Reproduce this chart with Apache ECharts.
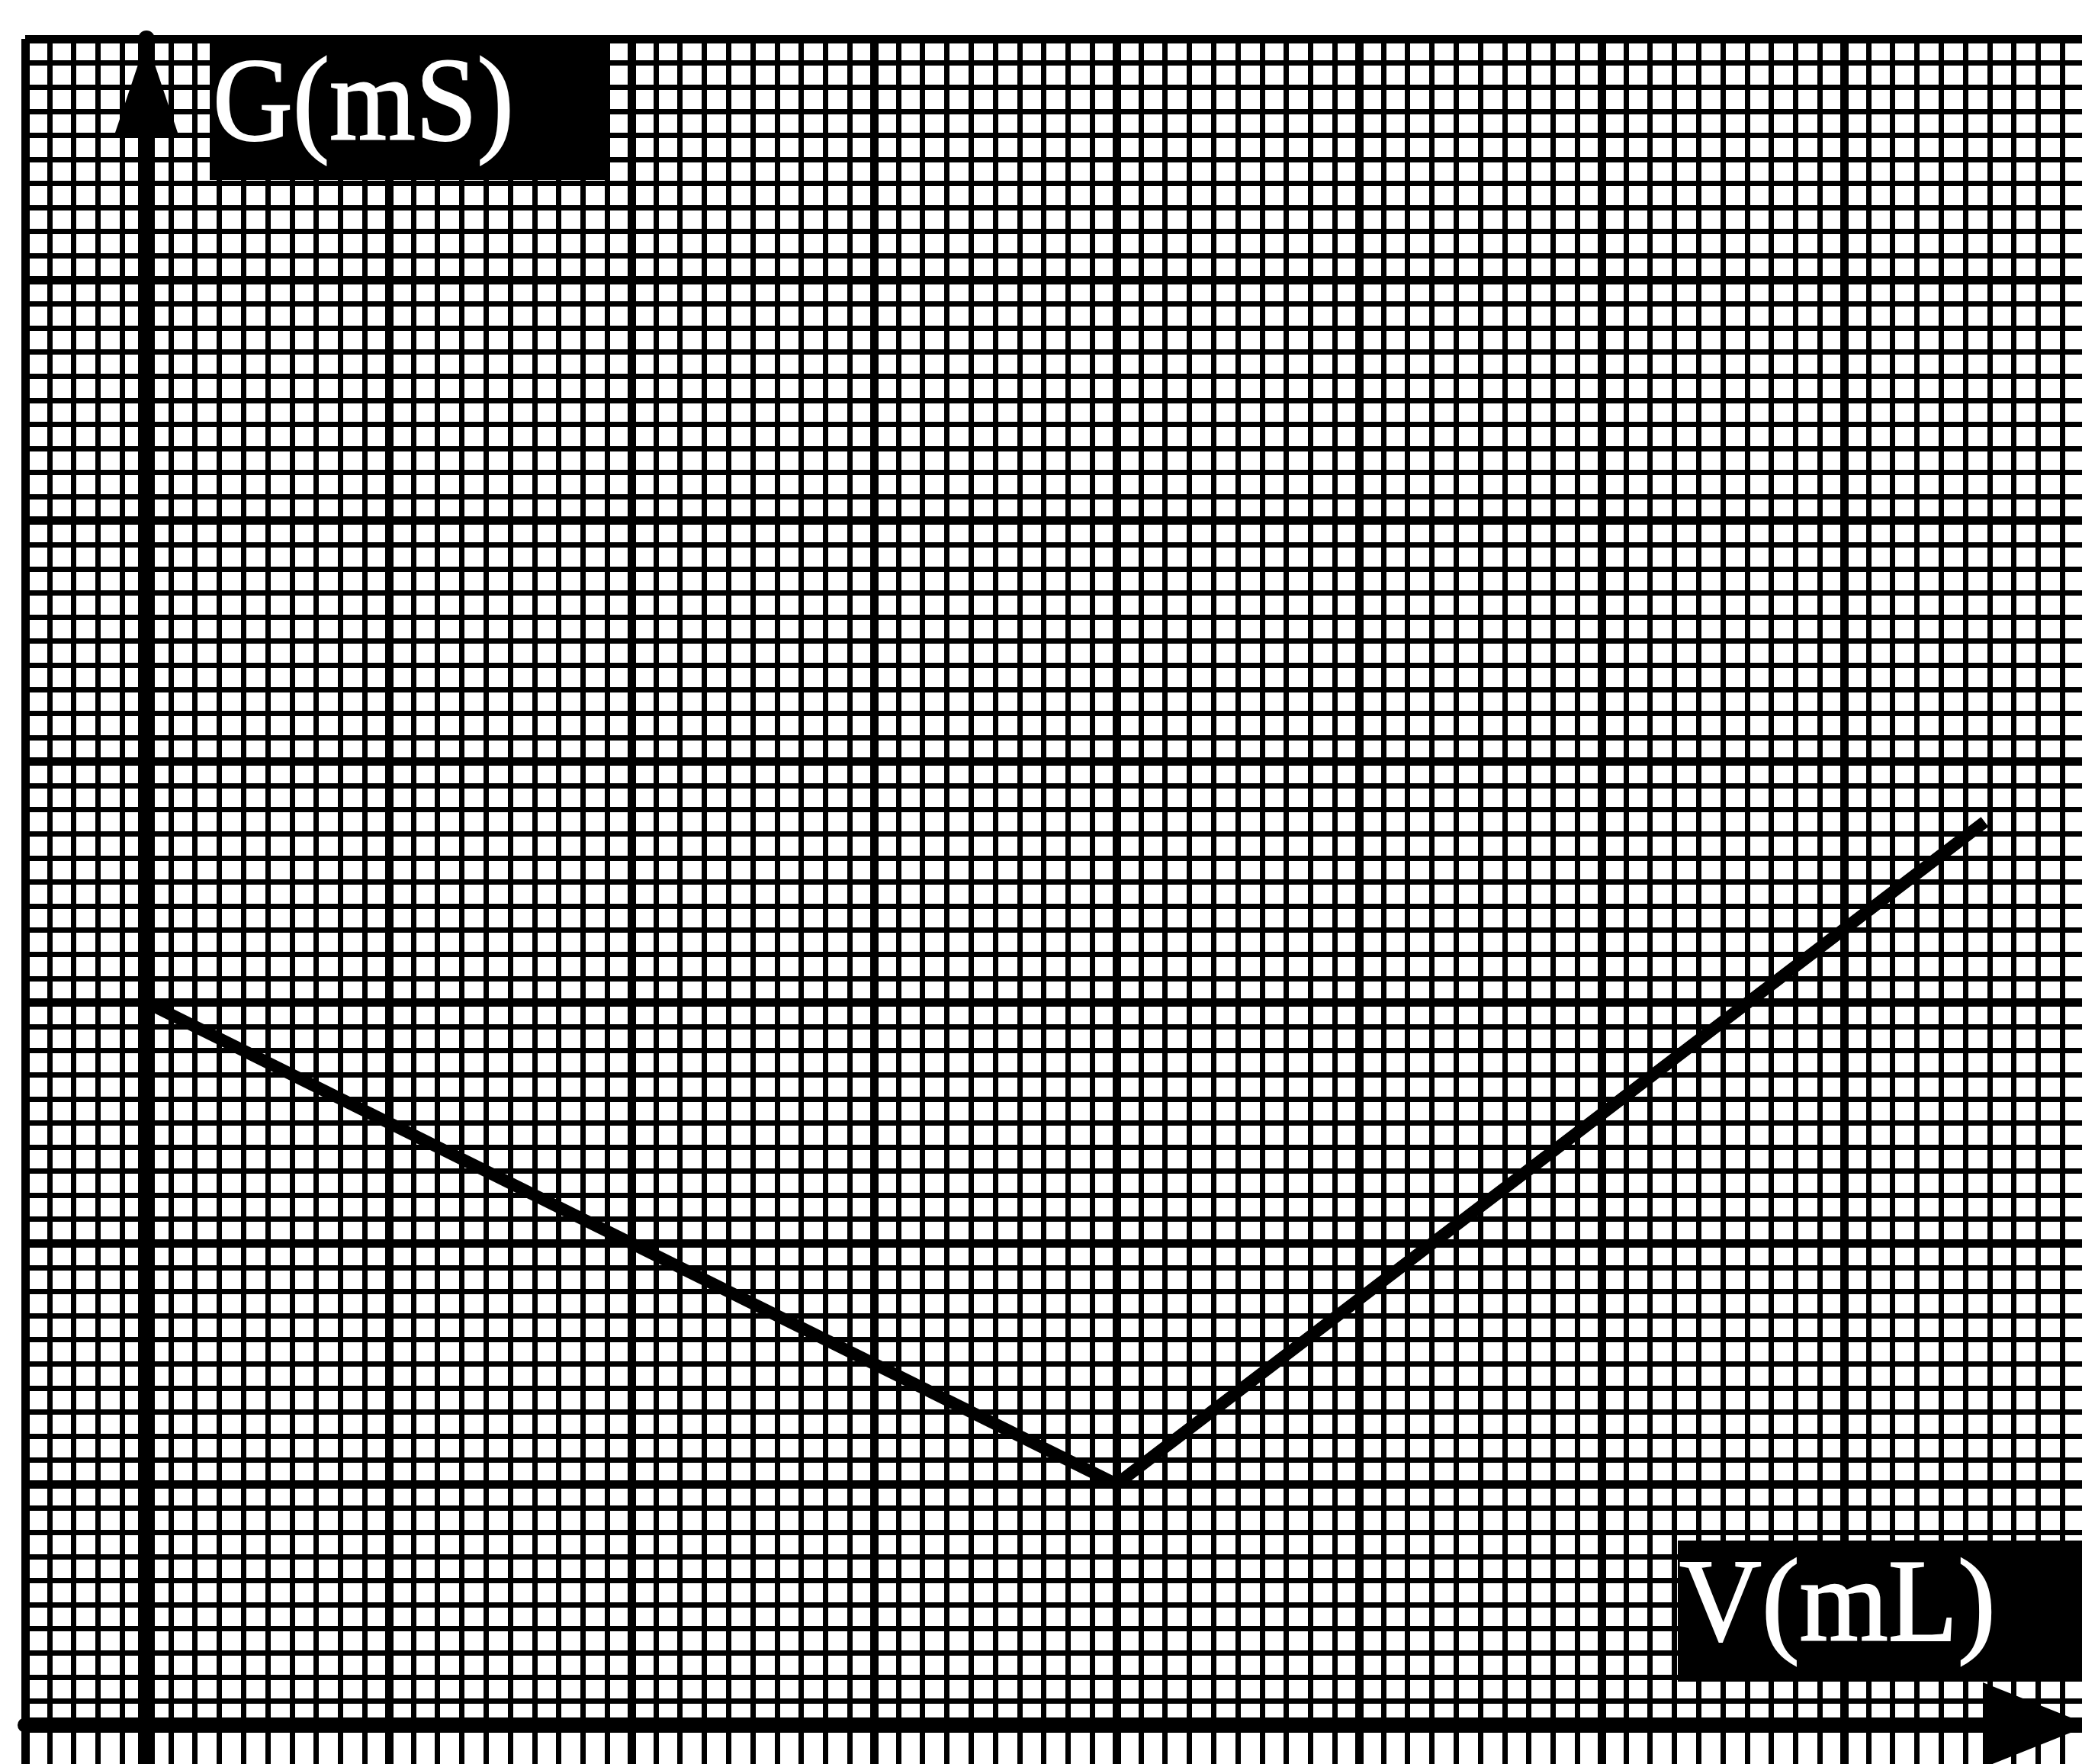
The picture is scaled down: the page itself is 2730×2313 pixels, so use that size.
<!DOCTYPE html>
<html>
<head>
<meta charset="utf-8">
<script src="https://cdn.jsdelivr.net/npm/echarts@6/dist/echarts.min.js"></script>
<style>
html,body{margin:0;padding:0;background:#fff;}
#c{width:2730px;height:2313px;}
</style>
</head>
<body>
<div id="c"></div>
<script>
// ---- data (one grid unit = one major square) ----
const volumes = [0, 4, 7.58];        // V(mL)
const conductances = [3, 1, 3.75];   // G(mS)
const xLabel = 'V(mL)';
const yLabel = 'G(mS)';
const xRange = [-0.5, 8];
const yRange = [0, 7];

const INK = '#000';
const minorLine = {show: true, lineStyle: {color: INK, width: 7, type: 'solid'}};
const majorLine = {show: true, lineStyle: {color: INK, width: 11, type: 'solid'}};
const noLabels = {axisLabel: {show: false}, axisTick: {show: false}, minorTick: {show: false}};

const chart = echarts.init(document.getElementById('c'), null, {renderer: 'canvas'});

const option = {
  backgroundColor: '#fff',
  animation: false,
  grid: [
    {left: 33, top: 51, width: 2703, height: 2211, outerBoundsMode: 'none', containLabel: false},
    {left: 33, top: 2262, width: 2703, height: 60, outerBoundsMode: 'none', containLabel: false}
  ],
  xAxis: [
    Object.assign({
      gridIndex: 0, type: 'value', min: xRange[0], max: xRange[1], interval: 0.1,
      splitLine: minorLine,
      axisLine: {show: true, onZero: true, onZeroAxisIndex: 0,
        symbol: ['none', 'triangle'], symbolSize: [112, 140], symbolOffset: [0, -66],
        lineStyle: {color: INK, width: 20}}
    }, noLabels),
    Object.assign({
      gridIndex: 0, type: 'value', min: xRange[0], max: xRange[1],
      minInterval: 1, maxInterval: 1, splitNumber: 8,
      splitLine: majorLine, axisLine: {show: false}
    }, noLabels),
    Object.assign({
      gridIndex: 1, type: 'value', min: xRange[0], max: xRange[1], interval: 0.1,
      splitLine: minorLine, axisLine: {show: false}
    }, noLabels),
    Object.assign({
      gridIndex: 1, type: 'value', min: xRange[0], max: xRange[1],
      minInterval: 1, maxInterval: 1, splitNumber: 8,
      splitLine: majorLine, axisLine: {show: false}
    }, noLabels)
  ],
  yAxis: [
    Object.assign({
      gridIndex: 0, type: 'value', min: yRange[0], max: yRange[1], interval: 0.1,
      splitLine: minorLine,
      axisLine: {show: true, onZero: true, onZeroAxisIndex: 0,
        symbol: ['none', 'triangle'], symbolSize: [82, 122], symbolOffset: [0, -62],
        lineStyle: {color: INK, width: 22}}
    }, noLabels),
    Object.assign({
      gridIndex: 0, type: 'value', min: yRange[0], max: yRange[1], interval: 1,
      splitLine: majorLine, axisLine: {show: false}
    }, noLabels),
    Object.assign({
      gridIndex: 1, type: 'value', min: 0, max: 1, interval: 1,
      splitLine: {show: false},
      axisLine: {show: true, onZero: true, onZeroAxisIndex: 2, lineStyle: {color: INK, width: 22}}
    }, noLabels)
  ],
  series: [{
    type: 'line',
    xAxisIndex: 0, yAxisIndex: 0,
    data: volumes.map((v, i) => [v, conductances[i]]),
    symbol: 'none',
    lineStyle: {color: INK, width: 16, join: 'miter', cap: 'butt'},
    z: 5,
    silent: true
  }],
  graphic: [
    {type: 'rect', z: 10, shape: {x: 275, y: 48, width: 523, height: 188}, style: {fill: INK}},
    {type: 'text', z: 11, x: 279, y: 142, scaleX: 0.93,
      style: {text: yLabel, fill: '#fff', stroke: '#fff', lineWidth: 2, fontSize: 156, fontFamily: '"Liberation Serif", "Times New Roman", serif', align: 'left', verticalAlign: 'middle'}},
    {type: 'rect', z: 10, shape: {x: 2200, y: 2020, width: 540, height: 185}, style: {fill: INK}},
    {type: 'text', z: 11, x: 2202, y: 2111, scaleX: 0.97,
      style: {text: xLabel, fill: '#fff', stroke: '#fff', lineWidth: 2, fontSize: 154, fontFamily: '"Liberation Serif", "Times New Roman", serif', align: 'left', verticalAlign: 'middle'}}
  ]
};
chart.setOption(option);
</script>
</body>
</html>
